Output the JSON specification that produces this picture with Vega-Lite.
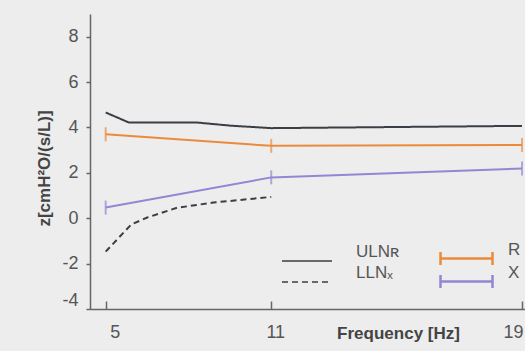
{
  "$schema": "https://vega.github.io/schema/vega-lite/v6.json",
  "width": 435,
  "height": 295,
  "autosize": "none",
  "padding": {"left": 90, "top": 14, "right": 0, "bottom": 42},
  "background": "#ededed",
  "config": {
    "view": {"stroke": null},
    "font": "Liberation Sans"
  },
  "datasets": {
    "limits": [
      {"freq": 5, "z": 4.66, "series": "ULNʀ"},
      {"freq": 5.9, "z": 4.22, "series": "ULNʀ"},
      {"freq": 8.4, "z": 4.22, "series": "ULNʀ"},
      {"freq": 9.6, "z": 4.08, "series": "ULNʀ"},
      {"freq": 11, "z": 3.97, "series": "ULNʀ"},
      {"freq": 19, "z": 4.07, "series": "ULNʀ"},
      {"freq": 5, "z": -1.47, "series": "LLNₓ"},
      {"freq": 6, "z": -0.27, "series": "LLNₓ"},
      {"freq": 6.6, "z": 0.03, "series": "LLNₓ"},
      {"freq": 7.7, "z": 0.46, "series": "LLNₓ"},
      {"freq": 9, "z": 0.69, "series": "LLNₓ"},
      {"freq": 11, "z": 0.94, "series": "LLNₓ"}
    ],
    "meas": [
      {"freq": 5, "z": 3.7, "series": "R"},
      {"freq": 11, "z": 3.19, "series": "R"},
      {"freq": 19, "z": 3.23, "series": "R"},
      {"freq": 5, "z": 0.47, "series": "X"},
      {"freq": 11, "z": 1.8, "series": "X"},
      {"freq": 19, "z": 2.19, "series": "X"}
    ]
  },
  "encoding": {
    "x": {
      "field": "freq",
      "type": "quantitative",
      "scale": {"type": "pow", "exponent": 1.2, "domain": [4.37, 19.09], "nice": false, "zero": false},
      "axis": {
        "values": [5, 11, 19],
        "grid": false,
        "labelFontSize": 18,
        "labelColor": "#555555",
        "labelFlush": false,
        "labelOverlap": false,
        "labelOffset": {"expr": "datum.value == 19 ? -9 : datum.value == 5 ? 9 : 4"},
        "labelPadding": 22,
        "tickSize": -8,
        "tickColor": "#666666",
        "tickWidth": 1.5,
        "domainColor": "#666666",
        "domainWidth": 1.5,
        "title": "Frequency [Hz]",
        "titleFontSize": 17,
        "titleFontWeight": "bold",
        "titleColor": "#444444",
        "titleX": 308,
        "titleY": 24,
        "titleBaseline": "middle"
      }
    },
    "y": {
      "field": "z",
      "type": "quantitative",
      "scale": {"domain": [-4, 9], "nice": false, "zero": false},
      "axis": {
        "values": [-4, -2, 0, 2, 4, 6, 8],
        "grid": false,
        "labelExpr": "datum.value < 0 ? '-' + abs(datum.value) : datum.label",
        "labelFontSize": 18,
        "labelColor": "#555555",
        "labelFlush": true,
        "labelPadding": 8,
        "tickSize": 4,
        "tickColor": "#666666",
        "tickWidth": 1.5,
        "domainColor": "#666666",
        "domainWidth": 1.5,
        "title": "z[cmH²O/(s/L)]",
        "titleFontSize": 17,
        "titleFontWeight": "bold",
        "titleColor": "#444444",
        "titlePadding": 8,
        "titleY": 154
      }
    }
  },
  "layer": [
    {
      "mark": {"type": "rule", "color": "#666666", "strokeWidth": 1.2},
      "encoding": {"y": {"datum": 9}, "x": null}
    },
    {
      "data": {"name": "limits"},
      "mark": {"type": "line", "color": "#3a3f45", "strokeWidth": 2},
      "encoding": {
        "strokeDash": {
          "field": "series",
          "type": "nominal",
          "scale": {"domain": ["ULNʀ", "LLNₓ"], "range": [[1, 0], [6, 4]]},
          "legend": {
            "orient": "none",
            "legendX": 206,
            "legendY": 236,
            "title": null,
            "padding": 0,
            "symbolType": "M-2.5,0H2.5",
            "symbolSize": 400,
            "symbolStrokeColor": "#3a3f45",
            "symbolStrokeWidth": 1.5,
            "labelFontSize": 17,
            "labelColor": "#555555",
            "labelOffset": 38,
            "labelBaseline": "bottom",
            "rowPadding": 0
          }
        }
      }
    },
    {
      "data": {"name": "meas"},
      "mark": {"type": "line", "strokeWidth": 2},
      "encoding": {
        "color": {
          "field": "series",
          "type": "nominal",
          "scale": {"domain": ["R", "X"], "range": ["#ec8a3c", "#9287d4"]},
          "legend": {
            "orient": "none",
            "legendX": 365,
            "legendY": 233,
            "title": null,
            "padding": 0,
            "symbolType": "M-2.6,-0.65V0.65M-2.6,0H2.6M2.6,-0.65V0.65",
            "symbolSize": 400,
            "symbolStrokeWidth": 2.5,
            "symbolFillColor": "transparent",
            "labelFontSize": 17,
            "labelColor": "#555555",
            "labelOffset": 30,
            "labelBaseline": "bottom",
            "rowPadding": -9
          }
        }
      }
    },
    {
      "data": {"name": "meas"},
      "mark": {"type": "tick", "orient": "vertical", "size": 14, "thickness": 2},
      "encoding": {
        "color": {"field": "series", "type": "nominal", "legend": null}
      }
    }
  ]
}
